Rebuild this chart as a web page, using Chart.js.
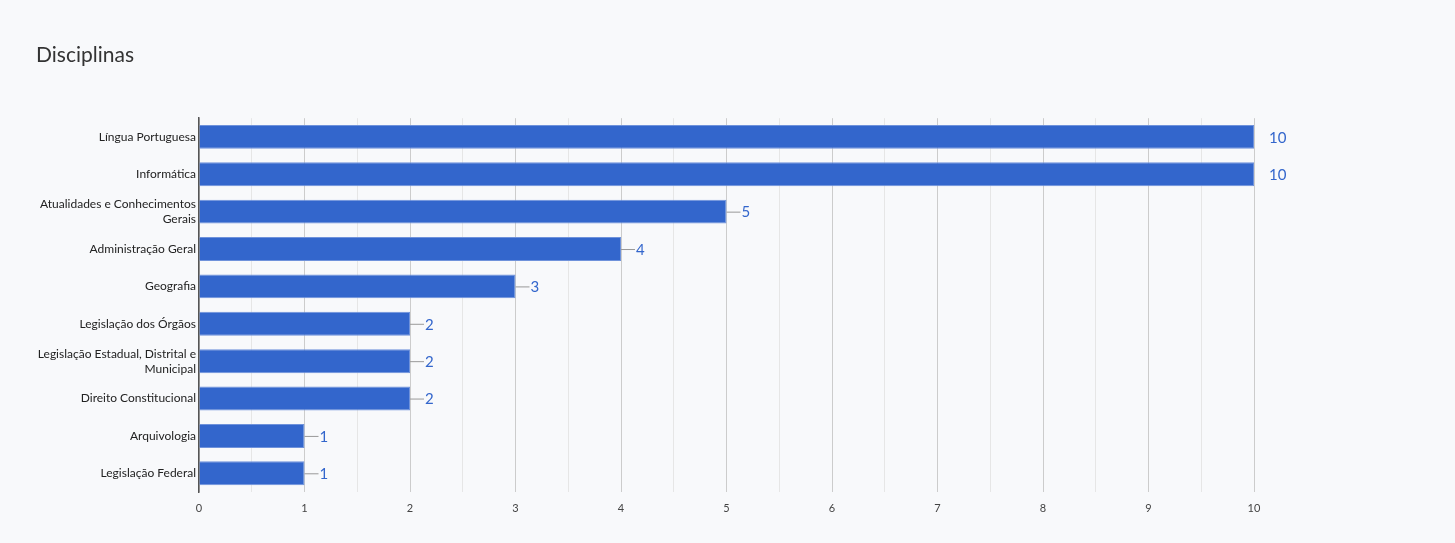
<!DOCTYPE html>
<html>
<head>
<meta charset="utf-8">
<script src="https://cdn.jsdelivr.net/npm/chart.js@4"></script>
<style>
  html, body { margin: 0; padding: 0; background: #f8f9fb; }
  #wrap { width: 1455px; height: 543px; position: relative; }
</style>
</head>
<body>
<div id="wrap"><canvas id="chart"></canvas></div>
<script>
const categories = [
    'Língua Portuguesa',
    'Informática',
    ['Atualidades e Conhecimentos', 'Gerais'],
    'Administração Geral',
    'Geografia',
    'Legislação dos Órgãos',
    ['Legislação Estadual, Distrital e', 'Municipal'],
    'Direito Constitucional',
    'Arquivologia',
    'Legislação Federal'
];
const counts = [10, 10, 5, 4, 3, 2, 2, 2, 1, 1];
const xTicks = [0, 1, 2, 3, 4, 5, 6, 7, 8, 9, 10];

const fontFamily = "Lato, 'Open Sans', sans-serif";

// value labels with a short leader line, like the original
const barLabels = {
    id: 'barLabels',
    afterDatasetsDraw(chart) {
        const ctx = chart.ctx;
        const meta = chart.getDatasetMeta(0);
        const maxVal = Math.max(...counts);
        ctx.save();
        meta.data.forEach((bar, i) => {
            const x = bar.x, y = bar.y;
            if (counts[i] < maxVal) {
                ctx.strokeStyle = '#999999';
                ctx.lineWidth = 1;
                ctx.beginPath();
                ctx.moveTo(x, y + 0.5);
                ctx.lineTo(x + 14, y + 0.5);
                ctx.stroke();
            }
            ctx.fillStyle = '#3366cc';
            ctx.font = '15px ' + fontFamily;
            ctx.textAlign = 'left';
            ctx.textBaseline = 'middle';
            ctx.fillText(String(counts[i]), x + 15, y + 1);
        });
        ctx.restore();
    }
};

const ctx = document.getElementById('chart').getContext('2d');
const chart = new Chart(ctx, {
    type: 'bar',
    data: {
        labels: categories,
        datasets: [{
            data: counts,
            backgroundColor: '#3366cc',
            borderColor: '#6f92db',
            borderWidth: 1,
            categoryPercentage: 1,
            barPercentage: 0.64
        }]
    },
    options: {
        indexAxis: 'y',
        responsive: true,
        maintainAspectRatio: false,
        animation: false,
        layout: { padding: { left: 36, right: 201, top: 0, bottom: 0 } },
        plugins: {
            legend: { display: false },
            tooltip: { enabled: false },
            title: {
                display: true,
                text: 'Disciplinas',
                align: 'start',
                color: '#333333',
                font: { family: fontFamily, size: 21, weight: 'normal' },
                padding: { top: 43, bottom: 50 }
            }
        },
        scales: {
            x: {
                min: 0,
                max: 10,
                afterBuildTicks(scale) {
                    const t = [];
                    xTicks.forEach((v, i) => {
                        t.push({ value: v });
                        if (i < xTicks.length - 1) t.push({ value: v + 0.5 });
                    });
                    scale.ticks = t;
                },
                afterFit(scale) { scale.height = 51; },
                border: { display: false },
                grid: {
                    drawTicks: false,
                    color: c => Number.isInteger(c.tick.value) ? '#cccccc' : '#e6e6e6',
                    lineWidth: 1
                },
                ticks: {
                    padding: 10,
                    autoSkip: false,
                    maxRotation: 0,
                    color: '#444444',
                    font: { family: fontFamily, size: 11 },
                    callback: v => Number.isInteger(v) ? String(v) : ''
                }
            },
            y: {
                afterFit(scale) { scale.width = 163; },
                border: { display: true, color: '#555555', width: 1.5 },
                grid: { display: false, drawTicks: false },
                ticks: {
                    padding: 3,
                    color: '#222222',
                    font: { family: fontFamily, size: 12, lineHeight: 1.25 }
                }
            }
        }
    },
    plugins: [barLabels]
});
</script>
</body>
</html>
